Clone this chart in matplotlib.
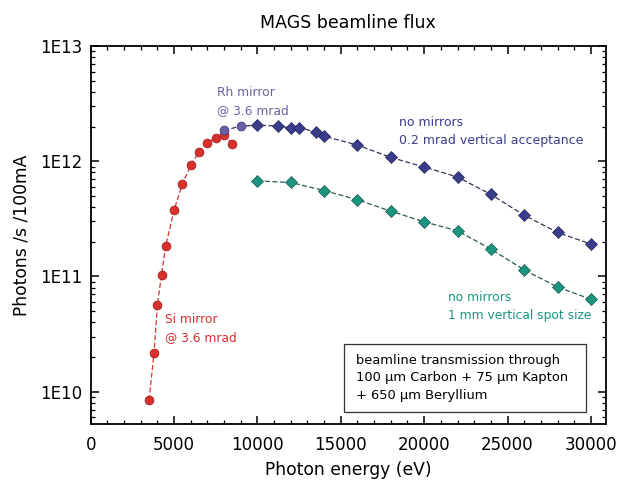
import matplotlib
matplotlib.use("Agg")
import matplotlib.pyplot as plt
from matplotlib.patches import Rectangle
from matplotlib.ticker import MultipleLocator, LogLocator, FuncFormatter, NullFormatter
import numpy as np

plt.rcParams["font.family"] = ["DejaVu Sans"]

# Si mirror branch (low energies)
si_energy = [3500, 3800, 4000, 4250, 4500, 5000, 5500, 6000, 6500, 7000, 7500, 8000, 8500]
si_flux = [8.5e9, 2.18e10, 5.7e10, 1.04e11, 1.85e11, 3.77e11, 6.36e11, 9.2e11,
           1.21e12, 1.43e12, 1.6e12, 1.68e12, 1.42e12]

# Rh mirror branch
rh_energy = [8000, 9000]
rh_flux = [1.85e12, 2.02e12]

# no mirrors, 0.2 mrad vertical acceptance
open_energy = [10000, 11250, 12000, 12500, 13500, 14000, 16000, 18000, 20000,
               22000, 24000, 26000, 28000, 30000]
open_flux = [2.05e12, 2.03e12, 1.94e12, 1.96e12, 1.79e12, 1.65e12, 1.38e12, 1.08e12,
             8.9e11, 7.3e11, 5.15e11, 3.4e11, 2.41e11, 1.91e11]

# no mirrors, 1 mm vertical spot size
spot_energy = [10000, 12000, 14000, 16000, 18000, 20000, 22000, 24000, 26000, 28000, 30000]
spot_flux = [6.75e11, 6.54e11, 5.57e11, 4.63e11, 3.69e11, 2.98e11, 2.49e11, 1.73e11,
             1.14e11, 8.1e10, 6.34e10]

red = "#d8302c"
purple = "#6b5ea6"
blue = "#3a3d8c"
teal = "#1c9480"

fig = plt.figure(figsize=(6.17, 4.84), dpi=100)
ax = fig.add_axes([0.147, 0.123, 0.835, 0.782])

# connecting dashed lines
ax.plot(si_energy, si_flux, "--", color=red, lw=0.9, dashes=(4, 2))
ax.plot(rh_energy + open_energy, rh_flux + open_flux, "--", color="#333355", lw=0.9, dashes=(4, 2))
ax.plot(spot_energy, spot_flux, "--", color="#2a5a55", lw=0.9, dashes=(4, 2))

ax.plot(si_energy, si_flux, "o", ms=6.4, color=red, mec="#9a1d1d", mew=0.5, ls="none")
ax.plot(rh_energy, rh_flux, "o", ms=6.4, color=purple, mec="#3f3670", mew=0.5, ls="none")
ax.plot(open_energy, open_flux, "D", ms=6.0, color=blue, mec="#22245a", mew=0.5, ls="none")
ax.plot(spot_energy, spot_flux, "D", ms=6.0, color=teal, mec="#0e5a4c", mew=0.5, ls="none")

ax.set_yscale("log")
ax.set_xlim(0, 30900)
ax.set_ylim(5.2e9, 1e13)

ax.xaxis.set_major_locator(MultipleLocator(5000))
ax.xaxis.set_minor_locator(MultipleLocator(1000))
ax.yaxis.set_major_locator(LogLocator(base=10, numticks=10))
ax.yaxis.set_minor_locator(LogLocator(base=10, subs=np.arange(2, 10), numticks=10))
ax.yaxis.set_major_formatter(FuncFormatter(lambda v, p: "1E%d" % round(np.log10(v))))
ax.yaxis.set_minor_formatter(NullFormatter())

ax.tick_params(which="both", direction="in", top=True, right=True, labelsize=12)
ax.tick_params(axis="x", pad=8)
ax.tick_params(axis="y", pad=6)
ax.tick_params(which="major", length=6, width=1.1)
ax.tick_params(which="minor", length=3, width=0.9)
for s in ax.spines.values():
    s.set_linewidth(1.3)

ax.set_xlabel("Photon energy (eV)", fontsize=12.3, labelpad=5)
ax.set_ylabel("Photons /s /100mA", fontsize=12.3, labelpad=7)
ax.set_title("MAGS beamline flux", fontsize=12.5, pad=13)

ax.text(7600, 3.3e12, "Rh mirror\n@ 3.6 mrad", color=purple, fontsize=8.8,
        linespacing=1.55, va="center")
ax.text(4450, 3.55e10, "Si mirror\n@ 3.6 mrad", color=red, fontsize=8.8,
        linespacing=1.55, va="center")
ax.text(18500, 1.32e12, "no mirrors\n0.2 mrad vertical acceptance", color=blue,
        fontsize=9, linespacing=1.55, va="bottom")
ax.text(21400, 4.0e10, "no mirrors\n1 mm vertical spot size", color=teal,
        fontsize=8.8, linespacing=1.5, va="bottom")

# transmission note in a framed box
ax.add_patch(Rectangle((0.4916, 0.033), 0.4696, 0.18, transform=ax.transAxes,
                       fc="white", ec="#333333", lw=0.9, zorder=3))
ax.text(0.515, 0.124, "beamline transmission through\n100 \u00b5m Carbon + 75 \u00b5m Kapton\n+ 650 \u00b5m Beryllium",
        transform=ax.transAxes, fontsize=9.4, linespacing=1.45, va="center", ha="left", zorder=4)

fig.savefig("out.png", dpi=100)
